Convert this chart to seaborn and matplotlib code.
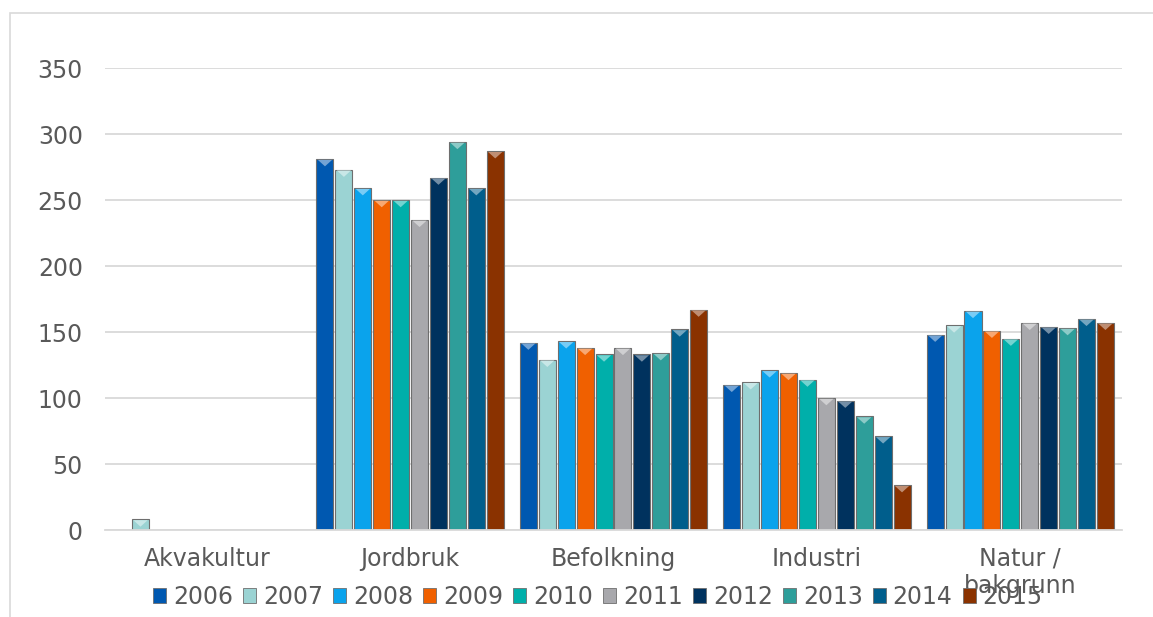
import numpy as np
import pandas as pd
import matplotlib
matplotlib.use('Agg')
import matplotlib.pyplot as plt
import matplotlib.colors as mcolors
from matplotlib.patches import Rectangle
import seaborn as sns

categories = ['Akvakultur', 'Jordbruk', 'Befolkning', 'Industri', 'Natur /\nbakgrunn']
years = ['2006', '2007', '2008', '2009', '2010', '2011', '2012', '2013', '2014', '2015']

# values per category, one per year (2006..2015)
akvakultur = [np.nan, 8, np.nan, np.nan, np.nan, np.nan, np.nan, np.nan, np.nan, np.nan]
jordbruk = [281, 273, 259, 250, 250, 235, 267, 294, 259, 287]
befolkning = [142, 129, 143, 138, 133, 138, 133, 134, 152, 167]
industri = [110, 112, 121, 119, 114, 100, 98, 86, 71, 34]
natur = [148, 155, 166, 151, 145, 157, 154, 153, 160, 157]

colors = ['#0058B0', '#9BD3D3', '#0AA3EC', '#F06000', '#00AFAA',
          '#A8A8AC', '#00325E', '#2E9E9A', '#005E8C', '#8A3200']

rows = []
for cat, vals in zip(categories, [akvakultur, jordbruk, befolkning, industri, natur]):
    for yr, v in zip(years, vals):
        rows.append({'Kategori': cat, 'År': yr, 'Verdi': v})
df = pd.DataFrame(rows)

sns.set_style('white')
plt.rcParams['font.family'] = ['DejaVu Sans']
text_color = '#595959'

fig = plt.figure(figsize=(11.53, 6.17), dpi=100)
ax = fig.add_axes([105 / 1153, 87 / 617, 1017 / 1153, 462 / 617])

sns.barplot(data=df, x='Kategori', y='Verdi', hue='År', order=categories,
            hue_order=years, palette=colors, width=0.93, gap=0.1,
            edgecolor='#6E6E6E', linewidth=0.8, saturation=1,
            legend=False, ax=ax)

# bevel highlight at the top of each bar
for container, c in zip(ax.containers, colors):
    light = mcolors.to_rgb(c)
    light = tuple(0.55 * np.array(light) + 0.45)
    for p in container.patches:
        h = p.get_height()
        if not np.isfinite(h) or h <= 0:
            continue
        x0, w = p.get_x(), p.get_width()
        ax.fill([x0 + w * 0.08, x0 + w * 0.92, x0 + w / 2],
                [h - 0.6, h - 0.6, h - 5.5], color=light, lw=0, zorder=3)

ax.set_ylim(0, 350)
ax.set_yticks(range(0, 351, 50))
ax.set_xlim(-0.5, len(categories) - 0.5)
ax.yaxis.grid(True, color='#D9D9D9', linewidth=1.3)
ax.set_axisbelow(True)
for s in ['left', 'right', 'top']:
    ax.spines[s].set_visible(False)
ax.spines['bottom'].set_color('#D9D9D9')
ax.spines['bottom'].set_linewidth(1.3)
ax.tick_params(axis='y', length=0, pad=16, labelsize=17, labelcolor=text_color)
ax.tick_params(axis='x', length=0, pad=12, labelsize=17, labelcolor=text_color)
ax.set_xlabel('')
ax.set_ylabel('')

handles = [Rectangle((0, 0), 1, 1, facecolor=c, edgecolor='#6E6E6E', linewidth=0.6)
           for c in colors]
fig.legend(handles, years, loc='center', bbox_to_anchor=(598 / 1153, 20 / 617),
           ncol=10, frameon=False, fontsize=17, labelcolor=text_color,
           handlelength=0.55, handleheight=0.6, handletextpad=0.3,
           columnspacing=0.42, borderaxespad=0, borderpad=0)

# outer chart border
fig.patches.append(Rectangle((10 / 1153, -0.1), 1.2, (604 / 617) + 0.1,
                             transform=fig.transFigure, fill=False,
                             edgecolor='#D9D9D9', linewidth=1.2))

fig.savefig('out.png', dpi=100)
